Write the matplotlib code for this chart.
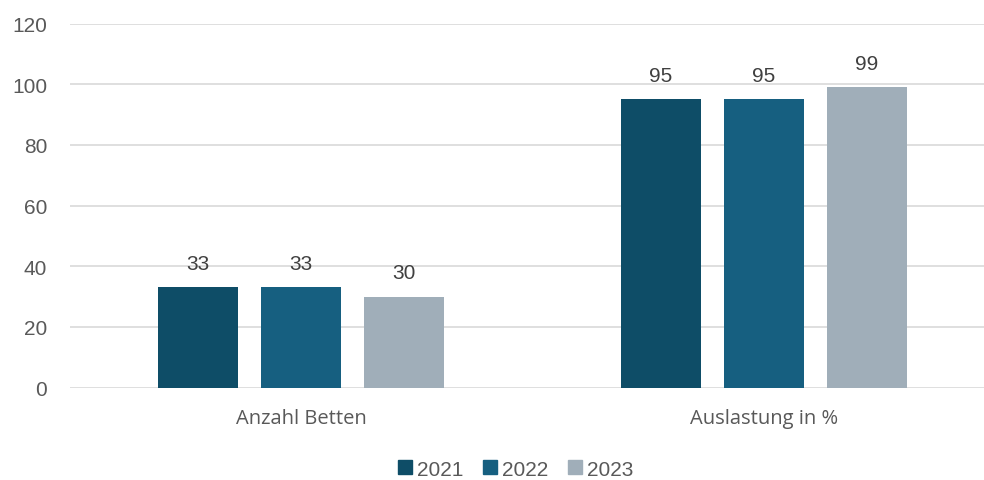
import matplotlib
matplotlib.use("Agg")
import matplotlib.pyplot as plt
import numpy as np

categories = ["Anzahl Betten", "Auslastung in %"]
years = ["2021", "2022", "2023"]
values = {
    "2021": [33, 95],
    "2022": [33, 95],
    "2023": [30, 99],
}
colors = ["#0E4D67", "#165F80", "#A0AEB9"]
yticks = [0, 20, 40, 60, 80, 100, 120]

plt.rcParams["font.family"] = ["Liberation Sans", "DejaVu Sans"]

fig = plt.figure(figsize=(9.84, 4.81), dpi=100)
# plot area runs slightly past the right edge of the image, like the original
ax = fig.add_axes([69.5 / 984, 92.5 / 481, 926 / 984, 364 / 481])

x = np.arange(len(categories))
width = 0.174
step = 0.2225

for i, yr in enumerate(years):
    pos = x + (i - 1) * step
    bars = ax.bar(pos, values[yr], width, color=colors[i], label=yr, zorder=3)
    for b, v in zip(bars, values[yr]):
        ax.annotate(str(v), (b.get_x() + b.get_width() / 2, v),
                    xytext=(0, 10.5), textcoords="offset points",
                    ha="center", va="bottom", fontsize=15, color="#404040")

ax.set_xlim(-0.5, 1.5)
ax.set_ylim(0, 120)
ax.set_yticks(yticks)
ax.set_xticks(x)
ax.set_xticklabels(categories, family=["Open Sans", "DejaVu Sans"], fontsize=14.5, color="#595959")
ax.tick_params(axis="y", length=0, pad=16, labelsize=15, labelcolor="#595959")
ax.tick_params(axis="x", length=0, pad=15)
ax.grid(axis="y", color="#D9D9D9", linewidth=1.2, zorder=0)
for s in ax.spines.values():
    s.set_visible(False)

handles = [plt.Line2D([], [], marker="s", linestyle="", markersize=9.5, color=c) for c in colors]
leg = fig.legend(handles, years, loc="center", bbox_to_anchor=(514 / 984, 1 - 470 / 481),
                 ncol=3, frameon=False, fontsize=15, handletextpad=0.1, columnspacing=0.75,
                 handlelength=1.0)
for t in leg.get_texts():
    t.set_color("#595959")

fig.savefig("out.png", dpi=100)
